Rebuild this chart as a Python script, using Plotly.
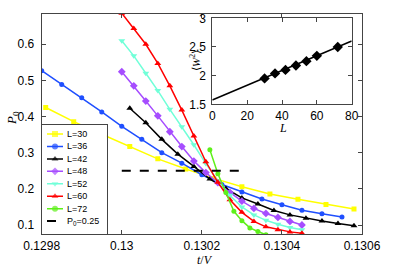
import plotly.graph_objects as go

# ---------------- data ----------------
t_L30 = [0.12981, 0.12988, 0.12995, 0.13002, 0.13009, 0.13016, 0.13023, 0.1303, 0.13037, 0.13044, 0.13051, 0.13058]
P_L30 = [0.425, 0.386, 0.351, 0.317, 0.283, 0.255, 0.229, 0.206, 0.186, 0.171, 0.157, 0.144]

t_L36 = [0.1298, 0.12985, 0.1299, 0.12995, 0.13, 0.13005, 0.1301, 0.13015, 0.1302, 0.13025, 0.1303, 0.13035, 0.1304, 0.13045, 0.1305, 0.13055]
P_L36 = [0.527, 0.489, 0.452, 0.413, 0.373, 0.337, 0.300, 0.271, 0.239, 0.212, 0.191, 0.172, 0.156, 0.141, 0.131, 0.122]

t_L42 = [0.13002, 0.13006, 0.1301, 0.13014, 0.13018, 0.13022, 0.13026, 0.1303, 0.13034, 0.13038, 0.13042, 0.13046, 0.1305, 0.13054, 0.13058]
P_L42 = [0.423, 0.383, 0.337, 0.296, 0.262, 0.227, 0.201, 0.175, 0.158, 0.140, 0.128, 0.119, 0.111, 0.104, 0.098]

t_L48 = [0.13, 0.13003, 0.13006, 0.13009, 0.13012, 0.13015, 0.13018, 0.13021, 0.13024, 0.13027, 0.1303, 0.13033, 0.13036, 0.13039, 0.13042, 0.13045]
P_L48 = [0.524, 0.485, 0.443, 0.402, 0.358, 0.317, 0.277, 0.245, 0.217, 0.190, 0.166, 0.146, 0.132, 0.121, 0.110, 0.100]

t_L52 = [0.13, 0.13003, 0.13006, 0.13009, 0.13012, 0.13015, 0.13018, 0.13021, 0.13024, 0.13027, 0.1303, 0.13033, 0.13036, 0.13039, 0.13042, 0.13045]
P_L52 = [0.610, 0.568, 0.520, 0.472, 0.420, 0.372, 0.322, 0.270, 0.222, 0.182, 0.150, 0.128, 0.113, 0.102, 0.093, 0.087]

t_L60 = [0.13, 0.13003, 0.13006, 0.13009, 0.13012, 0.13015, 0.13018, 0.13021, 0.13024, 0.13027, 0.1303, 0.13033, 0.13036, 0.13039, 0.13042, 0.13045]
P_L60 = [0.686, 0.644, 0.600, 0.547, 0.485, 0.418, 0.346, 0.275, 0.218, 0.170, 0.135, 0.110, 0.095, 0.087, 0.081, 0.077]

t_L72 = [0.13022, 0.13024, 0.13026, 0.13028, 0.1303, 0.13032, 0.13034, 0.13036]
P_L72 = [0.308, 0.242, 0.190, 0.138, 0.112, 0.092, 0.082, 0.073]

P0_line_t = [0.13, 0.1303]
P0_line_P = [0.25, 0.25]

series_names = ["L=30", "L=36", "L=42", "L=48", "L=52", "L=60", "L=72"]
series_t = [t_L30, t_L36, t_L42, t_L48, t_L52, t_L60, t_L72]
series_P = [P_L30, P_L36, P_L42, P_L48, P_L52, P_L60, P_L72]
series_colors = ["#ffff00", "#1f4fff", "#000000", "#a64dff", "#70ffd8", "#ff0000", "#5ef01a"]
series_symbols = ["square", "circle", "triangle-up", "diamond", "triangle-down", "triangle-up", "circle"]
dashed_name = "P<sub>0</sub>=0.25"

x_tickvals = [0.1298, 0.13, 0.1302, 0.1304, 0.1306]
x_ticktext = ["0.1298", "0.13", "0.1302", "0.1304", "0.1306"]
y_tickvals = [0.1, 0.2, 0.3, 0.4, 0.5, 0.6]
y_ticktext = ["0.1", "0.2", "0.3", "0.4", "0.5", "0.6"]

# inset
L_inset = [30, 36, 42, 48, 54, 60, 72]
W2_inset = [1.952, 2.039, 2.100, 2.178, 2.253, 2.345, 2.500]
fit_L = [0, 80]
fit_W2 = [1.575, 2.605]
inset_xticks = [0, 20, 40, 60, 80]
inset_yticks = [1.5, 2, 2.5, 3]
inset_yticktext = ["1.5", "2", "2.5", "3"]

W_px, H_px = 399, 272
SANS = "Liberation Sans, Arial, sans-serif"
SERIF = "Liberation Serif, Times New Roman, serif"
AXC = "#444444"

fig = go.Figure()

# main curves
for name, tt, pp, c, s in zip(series_names, series_t, series_P, series_colors, series_symbols):
    msize = 6 if s in ("triangle-up", "triangle-down", "diamond") else 5
    fig.add_trace(go.Scatter(x=tt, y=pp, mode="lines+markers", name=name,
                             line=dict(color=c, width=1.5),
                             marker=dict(symbol=s, size=msize, color=c, line=dict(width=0)),
                             xaxis="x", yaxis="y", showlegend=False))
fig.add_trace(go.Scatter(x=P0_line_t, y=P0_line_P, mode="lines", name="P0=0.25",
                         line=dict(color="black", width=2, dash="dash"),
                         xaxis="x", yaxis="y", showlegend=False))

# inset
fig.add_trace(go.Scatter(x=fit_L, y=fit_W2, mode="lines", line=dict(color="black", width=1.5),
                         xaxis="x2", yaxis="y2", showlegend=False))
fig.add_trace(go.Scatter(x=L_inset, y=W2_inset, mode="markers",
                         marker=dict(symbol="diamond", size=8, color="black"),
                         xaxis="x2", yaxis="y2", showlegend=False))

# custom legend box (axes x3/y3)
LW, LH = 65, 109
fig.add_trace(go.Scatter(x=[0, LW, LW, 0, 0], y=[0, 0, LH, LH, 0], mode="lines", fill="toself",
                         fillcolor="white", line=dict(width=0), xaxis="x3", yaxis="y3",
                         showlegend=False, hoverinfo="skip"))
row0, rowh = 9.0, 12.4
annotations = []
for i, (name, c, s) in enumerate(zip(series_names, series_colors, series_symbols)):
    yy = row0 + rowh * i
    fig.add_trace(go.Scatter(x=[5.3, 13.3, 21.3], y=[yy, yy, yy], mode="lines+markers",
                             line=dict(color=c, width=1.5),
                             marker=dict(symbol=s, size=[0, 6, 0], color=c, line=dict(width=0)),
                             xaxis="x3", yaxis="y3", showlegend=False))
    annotations.append(dict(x=23, y=yy, xref="x3", yref="y3", text=name, showarrow=False,
                            xanchor="left", yanchor="middle", font=dict(family=SANS, size=9, color="black")))
yy = row0 + rowh * len(series_names)
fig.add_trace(go.Scatter(x=[5.3, 21.3], y=[yy, yy], mode="lines",
                         line=dict(color="black", width=2, dash="dash"),
                         xaxis="x3", yaxis="y3", showlegend=False))
annotations.append(dict(x=23, y=yy, xref="x3", yref="y3", text=dashed_name, showarrow=False,
                        xanchor="left", yanchor="middle", font=dict(family=SANS, size=9, color="black")))

# axis titles
title_anchor = dict(xref="paper", yref="paper", showarrow=False, xanchor="center", yanchor="middle")
annotations += [
    dict(x=205 / W_px, y=1 - 260 / H_px, text="<i>t</i>/<i>V</i>",
         font=dict(family=SERIF, size=12, color="black"), **title_anchor),
    dict(x=12 / W_px, y=1 - 118 / H_px, text="<i>P</i><sub>0</sub>", textangle=-90,
         font=dict(family=SERIF, size=13, color="black"), **title_anchor),
    dict(x=195 / W_px, y=1 - 61 / H_px, text="⟨<i>W</i><sup>2</sup>⟩", textangle=-90,
         font=dict(family=SERIF, size=11, color="black"), **title_anchor),
    dict(x=283 / W_px, y=1 - 128 / H_px, text="<i>L</i>",
         font=dict(family=SERIF, size=12, color="black"), **title_anchor),
]

axis_common = dict(showline=True, linecolor=AXC, linewidth=1, mirror="ticks", ticks="inside",
                   ticklen=4, tickcolor=AXC, showgrid=False, zeroline=False, automargin=False,
                   tickmode="array", tickfont=dict(family=SANS, size=12, color="black"))
hidden_axis = dict(showline=True, linecolor=AXC, mirror=True, showticklabels=False, ticks="",
                   showgrid=False, zeroline=False, automargin=False)

fig.update_layout(
    width=W_px, height=H_px, autosize=False,
    margin=dict(l=0, r=0, t=0, b=0, pad=0, autoexpand=False),
    paper_bgcolor="white", plot_bgcolor="white", showlegend=False,
    xaxis=dict(domain=[41.7 / W_px, 362 / W_px], range=[0.1298, 0.1306], tickvals=x_tickvals,
               ticktext=x_ticktext, anchor="y", **axis_common),
    yaxis=dict(domain=[1 - 234.3 / H_px, 1 - 14 / H_px], range=[0.0743, 0.6838], tickvals=y_tickvals,
               ticktext=y_ticktext, anchor="x", ticklabelstandoff=4, **axis_common),
    xaxis2=dict(domain=[212.3 / W_px, 351.7 / W_px], range=[0, 80], tickvals=inset_xticks,
                ticktext=[str(v) for v in inset_xticks], anchor="y2", **axis_common),
    yaxis2=dict(domain=[1 - 104.3 / H_px, 1 - 18.3 / H_px], range=[1.5, 3], tickvals=inset_yticks,
                ticktext=inset_yticktext, anchor="x2", ticklabelstandoff=3, **axis_common),
    xaxis3=dict(domain=[41.7 / W_px, 106.7 / W_px], range=[0, LW], anchor="y3", **hidden_axis),
    yaxis3=dict(domain=[1 - 234.3 / H_px, 1 - 125 / H_px], range=[LH, 0], anchor="x3", **hidden_axis),
    annotations=annotations,
)

fig.write_html("out.html", config={"responsive": False, "displayModeBar": False},
               post_script="document.body.style.margin='0px';document.body.style.padding='0px';"
                           "document.body.style.overflow='hidden';")
